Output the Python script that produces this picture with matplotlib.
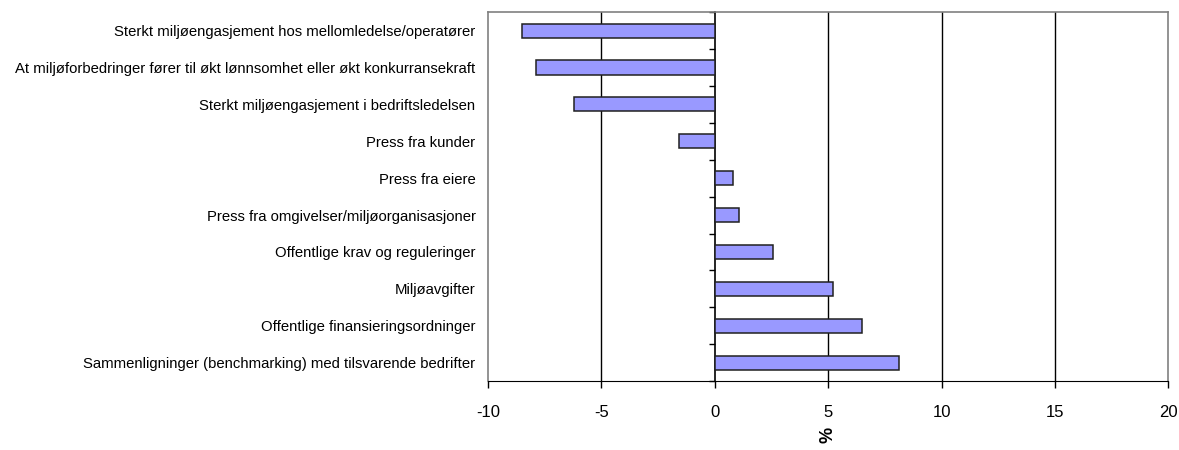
import matplotlib.pyplot as plt
import numpy as np

plt.rcParams['font.family'] = ['Liberation Sans', 'DejaVu Sans']

# categories listed top to bottom
categories = [
    "Sterkt miljøengasjement hos mellomledelse/operatører",
    "At miljøforbedringer fører til økt lønnsomhet eller økt konkurransekraft",
    "Sterkt miljøengasjement i bedriftsledelsen",
    "Press fra kunder",
    "Press fra eiere",
    "Press fra omgivelser/miljøorganisasjoner",
    "Offentlige krav og reguleringer",
    "Miljøavgifter",
    "Offentlige finansieringsordninger",
    "Sammenligninger (benchmarking) med tilsvarende bedrifter",
]
values = [-8.5, -7.9, -6.2, -1.6, 0.8, 1.05, 2.55, 5.2, 6.5, 8.1]
x_ticks = [-10, -5, 0, 5, 10, 15, 20]

fig = plt.figure(figsize=(11.79, 4.5), dpi=100)
ax = fig.add_axes([0.414, 0.153, 0.577, 0.82])

y = np.arange(len(categories))
ax.barh(y, values, height=0.38, color="#9999ff", edgecolor="#202020", linewidth=1.1, zorder=3)

ax.set_xlim(-10, 20)
ax.set_ylim(len(categories) - 0.5, -0.5)
ax.set_xticks(x_ticks)
ax.set_xticklabels([str(t) for t in x_ticks], fontsize=12)
ax.tick_params(axis="x", direction="out", length=5, width=1, pad=12)

for t in [-5, 5, 10, 15]:
    ax.axvline(t, color="black", linewidth=1, zorder=1)

ax.set_yticks(y)
ax.set_yticklabels(categories, fontsize=10.7)
ax.tick_params(axis="y", length=0, pad=9)

for side in ["left", "right", "top"]:
    ax.spines[side].set_color("#808080")
    ax.spines[side].set_linewidth(1.2)
ax.spines["bottom"].set_color("black")

# category axis drawn at x = 0
zero_axis = ax.secondary_yaxis(1 / 3)
zero_axis.set_yticks(np.arange(len(categories) + 1) - 0.5)
zero_axis.set_yticklabels([])
zero_axis.tick_params(axis="y", direction="out", length=4, width=1)
zero_axis.spines["left"].set_color("black")
zero_axis.spines["left"].set_linewidth(1.2)

ax.set_xlabel("%", fontsize=13, fontweight="bold", rotation=90, labelpad=5)

fig.savefig("out.png", dpi=100)
